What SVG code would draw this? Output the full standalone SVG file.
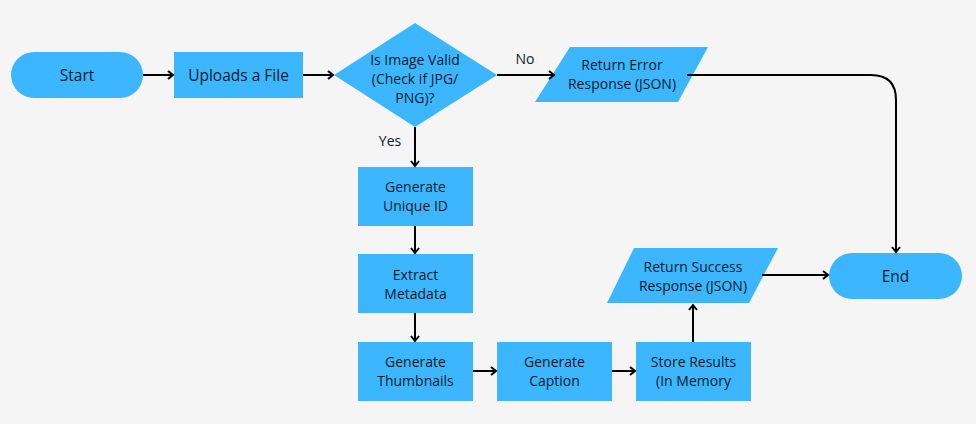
<svg xmlns="http://www.w3.org/2000/svg" width="976" height="424" viewBox="0 0 976 424">
<defs>
<marker id="arr" markerWidth="10" markerHeight="10" refX="7" refY="5" orient="auto" markerUnits="userSpaceOnUse">
<path d="M2,1 L7,5 L2,9" fill="none" stroke="#000" stroke-width="2"/>
</marker>
<style>
.n{fill:#3BB6FF}
.t{font-family:"Open Sans","Noto Sans",sans-serif;font-size:14px;fill:#0d1b2a;text-anchor:middle}
.tl{font-size:15.5px}
.c{fill:none;stroke:#000;stroke-width:2;marker-end:url(#arr)}
</style>
</defs>
<rect width="976" height="424" fill="#F5F5F5"/>
<g id="start"><rect class="n" x="11" y="52" width="132" height="46" rx="23"/><text class="t tl" x="77" y="80.5">Start</text></g>
<g id="upload"><rect class="n" x="174" y="52" width="129" height="46"/><text class="t tl" x="238.5" y="80.5">Uploads a File</text></g>
<g id="valid"><polygon class="n" points="415,23 497,75 415,127 334,75"/>
<text class="t" x="415" y="65">Is Image Valid</text><text class="t" x="415" y="84">(Check if JPG/</text><text class="t" x="415" y="103">PNG)?</text></g>
<g id="error"><polygon class="n" points="570,47 708,47 678,102 535,102"/><text class="t" x="622" y="70">Return Error</text><text class="t" x="622" y="89">Response (JSON)</text></g>
<g id="end"><rect class="n" x="829" y="253" width="133" height="46" rx="23"/><text class="t tl" x="895.5" y="281.5">End</text></g>
<g id="uid"><rect class="n" x="358" y="167" width="115" height="59"/><text class="t" x="415.5" y="192">Generate</text><text class="t" x="415.5" y="211">Unique ID</text></g>
<g id="meta"><rect class="n" x="358" y="254" width="115" height="59"/><text class="t" x="415.5" y="280">Extract</text><text class="t" x="415.5" y="299">Metadata</text></g>
<g id="thumb"><rect class="n" x="358" y="342" width="115" height="59"/><text class="t" x="415.5" y="367">Generate</text><text class="t" x="415.5" y="386">Thumbnails</text></g>
<g id="caption"><rect class="n" x="497" y="342" width="115" height="59"/><text class="t" x="554.5" y="367">Generate</text><text class="t" x="554.5" y="386">Caption</text></g>
<g id="store"><rect class="n" x="636" y="342" width="115" height="59"/><text class="t" x="693.5" y="367">Store Results</text><text class="t" x="693.5" y="386">(In Memory</text></g>
<g id="success"><polygon class="n" points="634,248 778,248 749,303 607,303"/><text class="t" x="693" y="272">Return Success</text><text class="t" x="693" y="291">Response (JSON)</text></g>
<g id="connectors">
<line class="c" x1="143" y1="75" x2="173" y2="75"/>
<line class="c" x1="303" y1="75" x2="333" y2="75"/>
<line class="c" x1="497" y1="75" x2="554" y2="75"/>
<path class="c" d="M687,75 H871 Q896,75 896,100 V252"/>
<line class="c" x1="415" y1="127" x2="415" y2="166"/>
<line class="c" x1="415" y1="226" x2="415" y2="253"/>
<line class="c" x1="415" y1="313" x2="415" y2="341" stroke-width="2.5"/>
<line class="c" x1="473" y1="371" x2="496" y2="371"/>
<line class="c" x1="612" y1="371" x2="635" y2="371"/>
<line class="c" x1="693" y1="342" x2="693" y2="305"/>
<line class="c" x1="762" y1="275" x2="828" y2="275"/>
</g>
<text class="t" x="525" y="64">No</text>
<text class="t" x="390" y="146">Yes</text>
</svg>
